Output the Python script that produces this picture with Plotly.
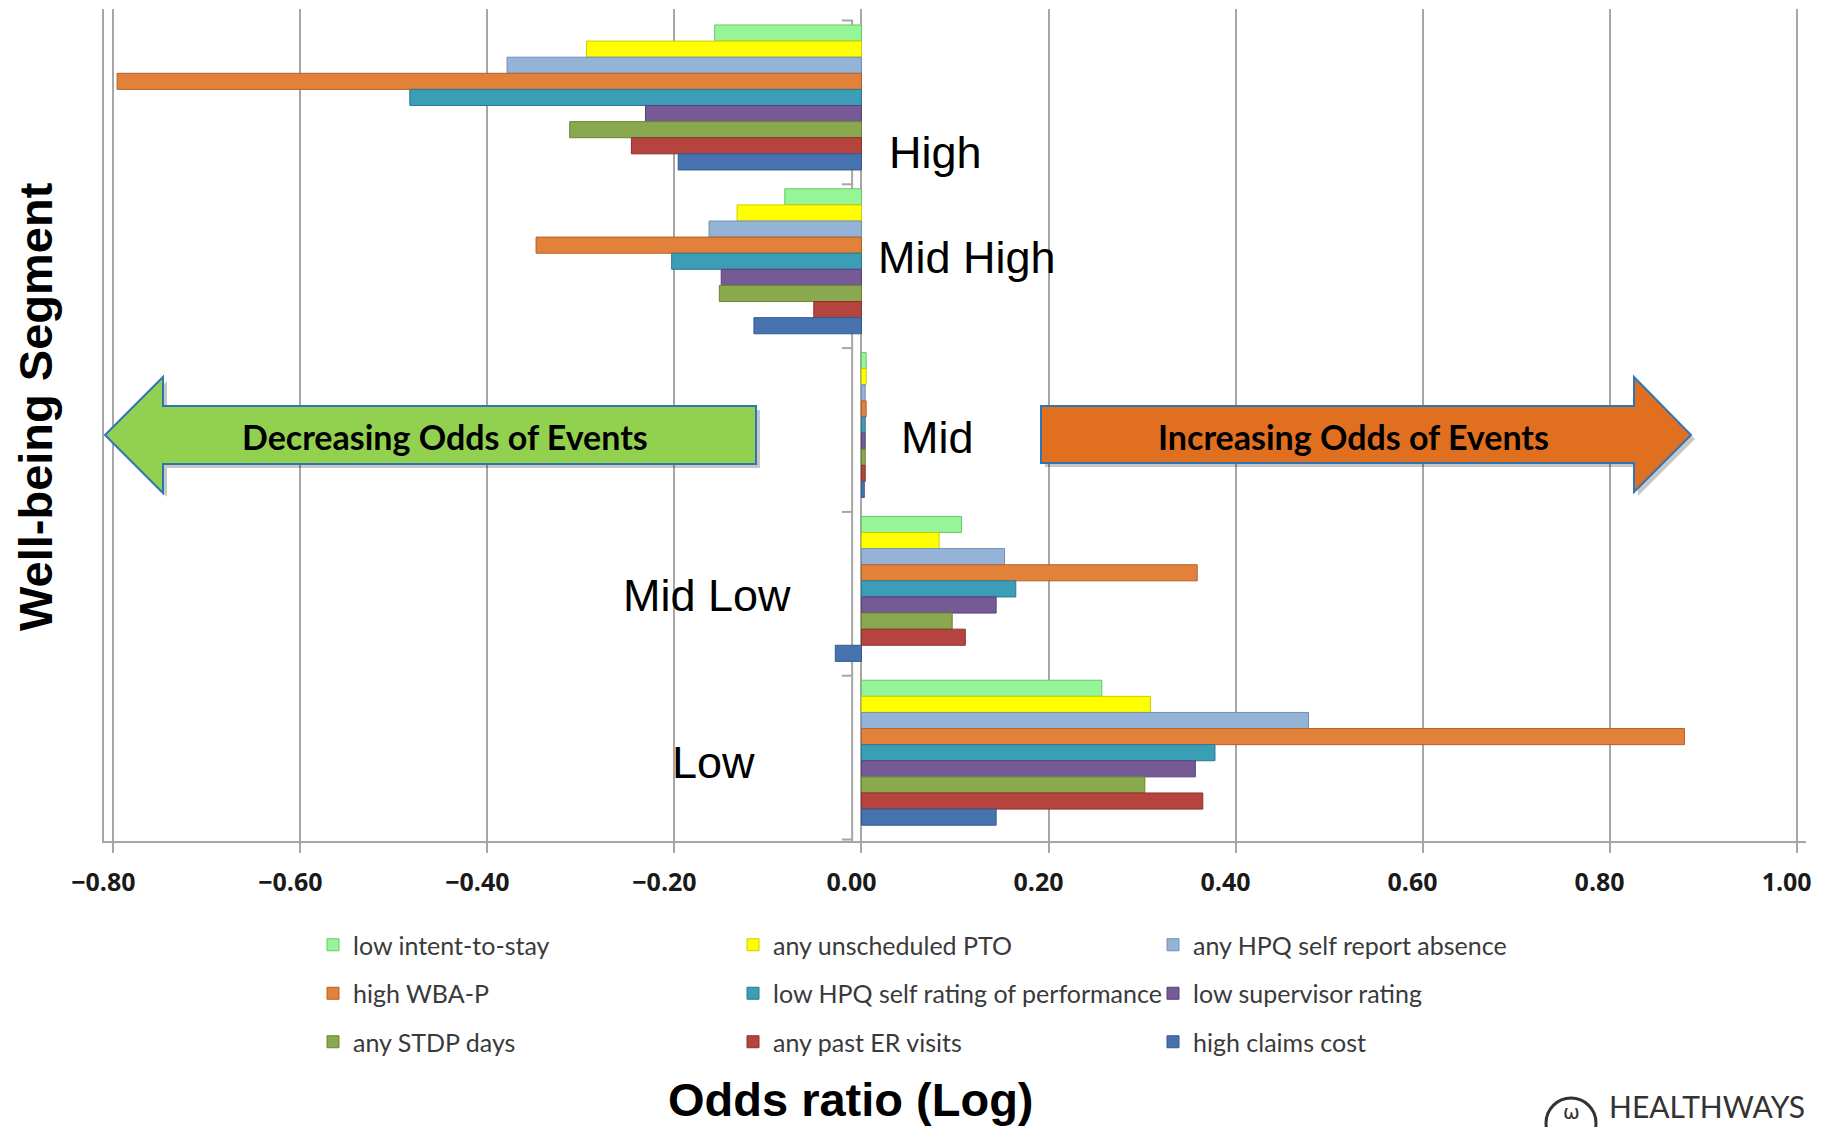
import plotly.graph_objects as go

# ---------------- data ----------------
categories = ["High", "Mid High", "Mid", "Mid Low", "Low"]

series_names = [
    "low intent-to-stay", "any unscheduled PTO", "any HPQ self report absence",
    "high WBA-P", "low HPQ self rating of performance", "low supervisor rating",
    "any STDP days", "any past ER visits", "high claims cost",
]
low_intent_to_stay = [-0.157, -0.082, 0.005, 0.107, 0.257]
any_unscheduled_pto = [-0.294, -0.133, 0.005, 0.083, 0.309]
any_hpq_absence = [-0.379, -0.163, 0.004, 0.153, 0.478]
high_wba_p = [-0.796, -0.348, 0.005, 0.359, 0.880]
low_hpq_performance = [-0.483, -0.203, 0.004, 0.165, 0.378]
low_supervisor_rating = [-0.231, -0.150, 0.004, 0.144, 0.357]
any_stdp_days = [-0.312, -0.152, 0.004, 0.097, 0.303]
any_past_er_visits = [-0.246, -0.051, 0.004, 0.111, 0.365]
high_claims_cost = [-0.196, -0.115, 0.003, -0.028, 0.144]

series_values = [
    low_intent_to_stay, any_unscheduled_pto, any_hpq_absence, high_wba_p,
    low_hpq_performance, low_supervisor_rating, any_stdp_days,
    any_past_er_visits, high_claims_cost,
]
tick_values = [-0.8, -0.6, -0.4, -0.2, 0.0, 0.2, 0.4, 0.6, 0.8, 1.0]

# ---------------- styles ----------------
colors = ["#96F596", "#FFFF00", "#95B3D7", "#E2823A", "#3C9DB6",
          "#765A96", "#8AA84D", "#B5443F", "#4673B0"]
edges = ["#6CC46C", "#CCCC00", "#6F8FB8", "#B5602A", "#2B7A8E",
         "#57407A", "#6A8535", "#8C302C", "#335A90"]
legend_of = ["legend", "legend2", "legend3"] * 3

W, H = 1835, 1127
L, R, T, B = 104, 29, 9, 286
PW = W - L - R
PH = H - T - B


def px(x):
    return (x - L) / PW


def py(y):
    return (H - B - y) / PH


fig = go.Figure()
for i, (name, vals) in enumerate(zip(series_names, series_values)):
    fig.add_trace(go.Bar(
        y=categories, x=vals, name=name, orientation="h",
        marker=dict(color=colors[i], line=dict(color=edges[i], width=1)),
        legend=legend_of[i], legendgroup=name,
    ))

grid = "#A6A6A6"
fig.update_layout(
    width=W, height=H,
    margin=dict(l=L, r=R, t=T, b=B),
    paper_bgcolor="white", plot_bgcolor="white",
    barmode="group", bargap=0.115, bargroupgap=0,
    showlegend=True,
    xaxis=dict(
        range=[-0.81, 1.01], tickvals=tick_values, tickformat=".2f",
        showgrid=True, gridcolor=grid, gridwidth=2,
        zeroline=True, zerolinecolor=grid, zerolinewidth=2,
        showline=True, linecolor=grid, linewidth=2,
        ticks="outside", ticklen=10, tickcolor=grid, tickwidth=2,
        tickfont=dict(family="Open Sans", size=25, color="#1a1a1a", weight="bold"),
        ticklabelstandoff=8, ticklabelshift=-10,
    ),
    yaxis=dict(
        categoryorder="array", categoryarray=categories,
        range=[4.539, -0.540], showticklabels=False, ticks="",
        showgrid=False, zeroline=False,
        showline=True, linecolor=grid, linewidth=2,
    ),
)

legend_common = dict(
    xanchor="left", yanchor="top", orientation="v",
    font=dict(family="Lato", size=25, color="#3a3a3a"),
    bgcolor="rgba(0,0,0,0)", traceorder="grouped", tracegroupgap=13,
    itemwidth=30,
)
fig.update_layout(
    legend=dict(x=px(313), y=py(922), **legend_common),
    legend2=dict(x=px(733), y=py(922), **legend_common),
    legend3=dict(x=px(1153), y=py(922), **legend_common),
)

shapes = []
# front wall line at zero and boundary ticks
x_front = -0.010
shapes.append(dict(type="line", xref="x", yref="paper", x0=x_front, x1=x_front,
                   y0=0, y1=py(20), line=dict(color=grid, width=2), layer="below"))
for k in range(len(categories) + 1):
    yk = k - 0.47
    shapes.append(dict(type="line", xref="x", yref="y", x0=-0.021, x1=x_front,
                       y0=yk, y1=yk, line=dict(color=grid, width=2), layer="below"))


def path(points):
    s = "M " + " L ".join(f"{px(a):.5f},{py(b):.5f}" for a, b in points) + " Z"
    return s


green_pts = [(105, 435), (163, 377), (163, 406), (756, 406), (756, 464),
             (163, 464), (163, 493)]
orange_pts = [(1041, 406), (1634, 406), (1634, 377), (1691, 435), (1634, 492),
              (1634, 463), (1041, 463)]
for pts, fill in [(green_pts, "#92D050"), (orange_pts, "#E0701F")]:
    shadow = [(a + 4, b + 4) for a, b in pts]
    shapes.append(dict(type="path", xref="paper", yref="paper", path=path(shadow),
                       fillcolor="rgba(0,0,0,0.22)", line=dict(width=0)))
    shapes.append(dict(type="path", xref="paper", yref="paper", path=path(pts),
                       fillcolor=fill, line=dict(color="#2E75B6", width=2)))

# logo circle
shapes.append(dict(type="circle", xref="paper", yref="paper",
                   x0=px(1546), x1=px(1596), y0=py(1098), y1=py(1148),
                   line=dict(color="#333333", width=3)))
fig.update_layout(shapes=shapes)

annotations = []
# category labels placed next to their groups
label_pos = {
    "High": (0.027, 0.333, "left"),
    "Mid High": (0.015, 0.974, "left"),
    "Mid": (0.040, 2.073, "left"),
    "Mid Low": (-0.073, 3.043, "right"),
    "Low": (-0.112, 4.057, "right"),
}
for cat in categories:
    xv, yv, anc = label_pos[cat]
    annotations.append(dict(
        x=xv, y=yv, xref="x", yref="y", text=cat, showarrow=False,
        xanchor=anc, yanchor="middle",
        font=dict(family="Liberation Sans", size=45, color="black"),
    ))

annotations.append(dict(
    x=px(445), y=py(436), xref="paper", yref="paper", xanchor="center", yanchor="middle",
    text="Decreasing Odds of Events", showarrow=False,
    font=dict(family="Lato", size=34, color="black", weight="bold"),
))
annotations.append(dict(
    x=px(1353), y=py(436), xref="paper", yref="paper", xanchor="center", yanchor="middle",
    text="Increasing Odds of Events", showarrow=False,
    font=dict(family="Lato", size=34, color="black", weight="bold"),
))
annotations.append(dict(
    x=px(851), y=py(1099), xref="paper", yref="paper", xanchor="center",
    text="Odds ratio (Log)", showarrow=False, yanchor="middle",
    font=dict(family="Liberation Sans", size=47, color="black", weight="bold"),
))
annotations.append(dict(
    x=px(35), y=py(407), xref="paper", yref="paper", textangle=-90,
    xanchor="center", yanchor="middle",
    text="Well-being Segment", showarrow=False,
    font=dict(family="Liberation Sans", size=47, color="black", weight="bold"),
))
annotations.append(dict(
    x=px(1571), y=py(1112), xref="paper", yref="paper", xanchor="center",
    text="ω", showarrow=False, yanchor="middle",
    font=dict(family="DejaVu Sans", size=20, color="#333333"),
))
annotations.append(dict(
    x=px(1607), y=py(1126), xref="paper", yref="paper",
    text="HEALTHWAYS", showarrow=False, xanchor="left", yanchor="bottom",
    font=dict(family="Lato", size=30, color="#333333"),
))
fig.update_layout(annotations=annotations)

fig.write_html("out.html")
